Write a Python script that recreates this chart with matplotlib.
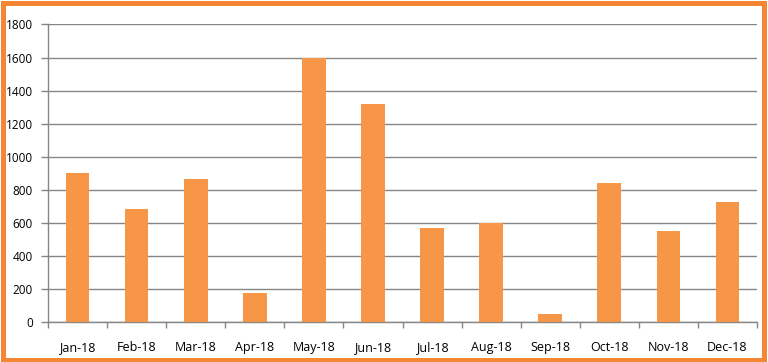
import matplotlib
matplotlib.use("Agg")
import matplotlib.pyplot as plt
from matplotlib.patches import Rectangle

months = ["Jan-18", "Feb-18", "Mar-18", "Apr-18", "May-18", "Jun-18",
          "Jul-18", "Aug-18", "Sep-18", "Oct-18", "Nov-18", "Dec-18"]
values = [900, 685, 865, 175, 1600, 1320, 570, 600, 50, 840, 550, 725]
yticks = [0, 200, 400, 600, 800, 1000, 1200, 1400, 1600, 1800]

W, H = 768, 362
fig = plt.figure(figsize=(W / 100, H / 100), dpi=100)
fig.patch.set_facecolor("white")
ax = fig.add_axes([48 / W, (H - 322) / H, (757 - 48) / W, (322 - 24.5) / H])

grid_c = "#868686"
x = list(range(len(months)))
ax.bar(x, values, width=0.4, color="#F79646", zorder=3)
ax.set_xlim(-0.5, len(months) - 0.5)
ax.set_ylim(0, 1800)
ax.set_yticks(yticks)
ax.set_yticklabels([str(v) for v in yticks])
ax.yaxis.grid(True, color=grid_c, linewidth=1.0, zorder=0)
ax.set_axisbelow(True)

ax.set_xticks([i + 0.5 for i in range(-1, len(months))], minor=False)
ax.set_xticklabels([""] * (len(months) + 1))
ax.set_xticks(x, minor=True)
ax.set_xticklabels(months, minor=True)
ax.tick_params(axis="x", which="major", length=4, color=grid_c, width=1, direction="out")
ax.tick_params(axis="x", which="minor", length=0, pad=14, labelsize=9)
ax.tick_params(axis="y", length=5, color=grid_c, width=1, pad=6, labelsize=8.5)

for s in ["top", "right"]:
    ax.spines[s].set_visible(False)
for s in ["left", "bottom"]:
    ax.spines[s].set_color(grid_c)
    ax.spines[s].set_linewidth(1.0)

for lab in ax.get_xticklabels(minor=True) + ax.get_yticklabels():
    lab.set_fontfamily(["Open Sans", "DejaVu Sans"])
    lab.set_color("#000000")

lw_px = 5
rect = Rectangle((lw_px / 2 / W, lw_px / 2 / H), (766 - lw_px) / W, (H - lw_px) / H,
                 transform=fig.transFigure, fill=False, edgecolor="#F58634",
                 linewidth=lw_px * 72 / 100, clip_on=False)
fig.patches.append(rect)

fig.savefig("out.png", dpi=100, facecolor="white")
